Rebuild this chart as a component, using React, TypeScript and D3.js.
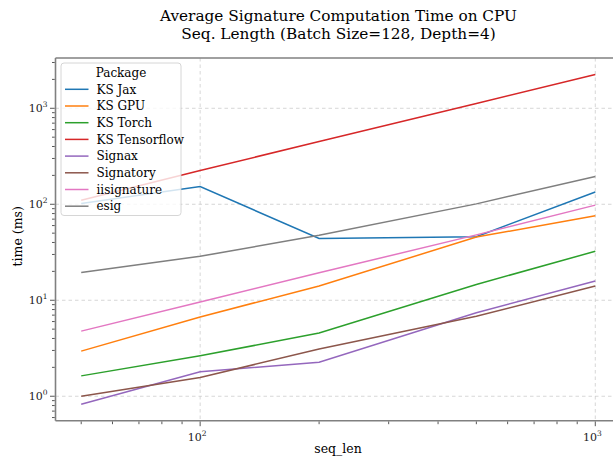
import * as d3 from 'd3'

// seq_len values on the x axis
const seqLen = [50, 100, 200, 500, 1000]

// average time (ms) for each package
const ksJax = [102, 153, 44, 46, 134]
const ksGpu = [2.95, 6.7, 14.1, 45.5, 76]
const ksTorch = [1.63, 2.64, 4.55, 14.6, 32.4]
const ksTensorflow = [110, 225, 450, 1120, 2250]
const signax = [0.826, 1.8, 2.26, 7.4, 15.9]
const signatory = [1.0, 1.57, 3.1, 6.8, 14.1]
const iisignature = [4.77, 9.6, 19.3, 48, 98]
const esig = [19.5, 28.7, 47.5, 101, 195]

const packages = ['KS Jax', 'KS GPU', 'KS Torch', 'KS Tensorflow', 'Signax', 'Signatory', 'iisignature', 'esig']
const seriesValues = [ksJax, ksGpu, ksTorch, ksTensorflow, signax, signatory, iisignature, esig]
const colors = ['#1f77b4', '#ff7f0e', '#2ca02c', '#d62728', '#9467bd', '#8c564b', '#e377c2', '#7f7f7f']

const xMajor = [100, 1000]
const yMajor = [1, 10, 100, 1000]

const W = 613
const H = 460
const left = 55.5
const right = 621
const top = 58
const bottom = 420.7
const font = 'DejaVu Serif, serif'

// matplotlib-like 5% margins in log space
const logPad = (lo: number, hi: number): [number, number] => {
  const a = Math.log10(lo)
  const b = Math.log10(hi)
  const m = (b - a) * 0.05
  return [Math.pow(10, a - m), Math.pow(10, b + m)]
}

const allY = seriesValues.flat()
const x = d3.scaleLog().domain(logPad(d3.min(seqLen)!, d3.max(seqLen)!)).range([left, right])
const y = d3.scaleLog().domain(logPad(d3.min(allY)!, d3.max(allY)!)).range([bottom, top])

const minorTicks = (scale: d3.ScaleLogarithmic<number, number>) => {
  const [lo, hi] = scale.domain()
  const out: number[] = []
  for (let e = Math.floor(Math.log10(lo)); e <= Math.ceil(Math.log10(hi)); e++) {
    for (let k = 2; k < 10; k++) {
      const v = k * Math.pow(10, e)
      if (v >= lo && v <= hi) out.push(v)
    }
  }
  return out
}

const line = d3
  .line<number>()
  .x((_, i) => x(seqLen[i]))
  .y((d) => y(d))

const Pow = ({ e }: { e: number }) => (
  <>
    10<tspan dy={-5} fontSize={7.5}>{e}</tspan>
  </>
)

export default function App() {
  const legendRow = 16.7
  return (
    <svg
      width={W}
      height={H}
      style={{ position: 'absolute', left: 0, top: 0, background: '#fff' }}
      fontFamily={font}
    >
      <rect width={W} height={H} fill="#fff" />
      <text x={338.5} y={21} textAnchor="middle" fontSize={15.3} fill="#000">
        Average Signature Computation Time on CPU
      </text>
      <text x={338.5} y={38.7} textAnchor="middle" fontSize={15.3} fill="#000">
        Seq. Length (Batch Size=128, Depth=4)
      </text>

      {/* grid */}
      <g stroke="#cccccc" strokeWidth={0.8} strokeDasharray="3.5,3">
        {xMajor.map((t) => (
          <line key={'gx' + t} x1={x(t)} x2={x(t)} y1={top} y2={bottom} />
        ))}
        {yMajor.map((t) => (
          <line key={'gy' + t} x1={left} x2={right} y1={y(t)} y2={y(t)} />
        ))}
      </g>

      {/* series */}
      <g fill="none" strokeWidth={1.5}>
        {seriesValues.map((vals, i) => (
          <path key={packages[i]} d={line(vals)!} stroke={colors[i]} />
        ))}
      </g>

      {/* spines */}
      <g stroke="#808080" strokeWidth={1.6}>
        <line x1={left} x2={right} y1={top} y2={top} />
        <line x1={left} x2={right} y1={bottom} y2={bottom} />
        <line x1={left} x2={left} y1={top} y2={bottom} />
        <line x1={right} x2={right} y1={top} y2={bottom} />
      </g>

      {/* ticks */}
      <g stroke="#444" strokeWidth={0.9}>
        {minorTicks(x).map((t) => (
          <line key={'mx' + t} x1={x(t)} x2={x(t)} y1={bottom + 0.8} y2={bottom + 3.5} />
        ))}
        {xMajor.map((t) => (
          <line key={'Mx' + t} x1={x(t)} x2={x(t)} y1={bottom + 0.8} y2={bottom + 5.5} />
        ))}
        {minorTicks(y).map((t) => (
          <line key={'my' + t} x1={left - 0.8} x2={left - 3.5} y1={y(t)} y2={y(t)} />
        ))}
        {yMajor.map((t) => (
          <line key={'My' + t} x1={left - 0.8} x2={left - 5.5} y1={y(t)} y2={y(t)} />
        ))}
      </g>

      <g fontSize={11} fill="#222">
        {xMajor.map((t) => (
          <text key={'lx' + t} x={x(t) - 3} y={bottom + 20} textAnchor="middle">
            <Pow e={Math.round(Math.log10(t))} />
          </text>
        ))}
        {yMajor.map((t) => (
          <text key={'ly' + t} x={left - 8} y={y(t) + 4} textAnchor="end">
            <Pow e={Math.round(Math.log10(t))} />
          </text>
        ))}
      </g>

      <text x={338} y={453} textAnchor="middle" fontSize={12.5} fill="#000">
        seq_len
      </text>
      <text
        transform={`translate(21.5,${(top + bottom) / 2 - 3}) rotate(-90)`}
        textAnchor="middle"
        fontSize={12.5}
        fill="#000"
      >
        time (ms)
      </text>

      {/* legend */}
      <g>
        <rect x={61} y={63} width={120} height={152.5} rx={3} fill="#fff" fillOpacity={0.8} stroke="#cccccc" strokeWidth={0.8} />
        <text x={121} y={76.5} textAnchor="middle" fontSize={12} fill="#000">
          Package
        </text>
        {packages.map((p, i) => (
          <g key={p} transform={`translate(0,${89.3 + i * legendRow})`}>
            <line x1={65} x2={88.5} y1={0} y2={0} stroke={colors[i]} strokeWidth={1.5} />
            <text x={96.5} y={4.2} fontSize={12} fill="#000">
              {p}
            </text>
          </g>
        ))}
      </g>
    </svg>
  )
}
